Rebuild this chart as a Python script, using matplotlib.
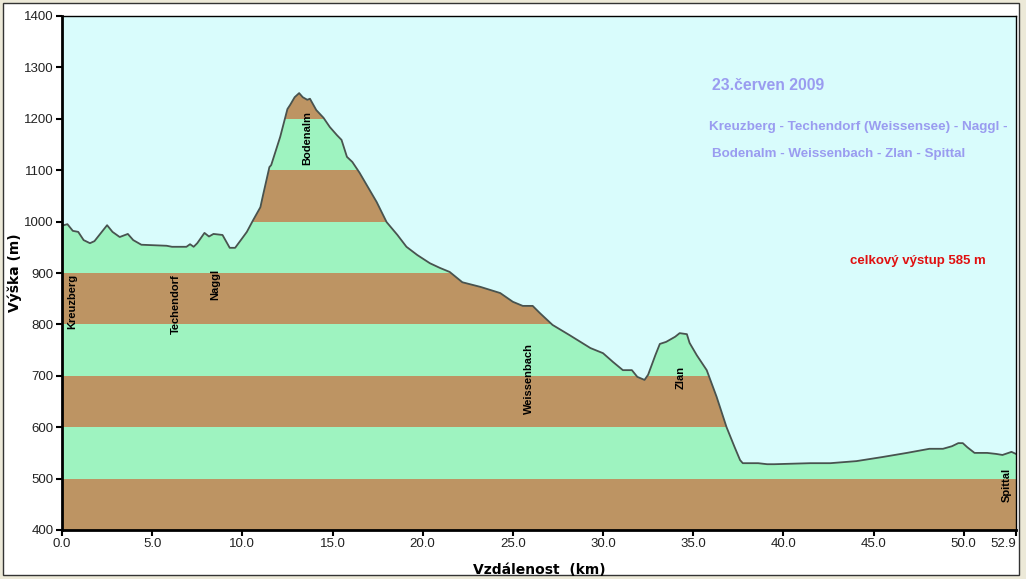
import numpy as np
import matplotlib
matplotlib.use('Agg')
import matplotlib.pyplot as plt
from matplotlib.patches import Polygon, Rectangle

# elevation profile (km, m)
km = [0.0, 0.3, 0.6, 0.9, 1.2, 1.55, 1.8, 2.5, 2.8, 3.2, 3.65, 3.95, 4.4, 5.8, 6.1,
      6.9, 7.1, 7.3, 7.5, 7.9, 8.15, 8.4, 8.9, 9.3, 9.6, 10.0, 10.25, 10.6, 11.0,
      11.15, 11.5, 11.6, 12.1, 12.5, 12.65, 12.9, 13.15, 13.35, 13.6, 13.75, 14.1,
      14.5, 14.85, 15.25, 15.5, 15.8, 16.1, 16.5, 16.8, 17.45, 18.0, 18.6, 19.1,
      19.7, 20.4, 20.95, 21.5, 22.2, 23.2, 24.3, 25.0, 25.55, 26.1, 26.5, 27.2,
      28.15, 29.3, 30.0, 30.55, 31.1, 31.6, 31.9, 32.3, 32.5, 32.9, 33.15, 33.5,
      34.0, 34.25, 34.65, 34.8, 35.2, 35.75, 36.3, 36.85, 37.3, 37.6, 37.75, 38.1,
      38.6, 39.1, 39.5, 41.5, 42.6, 44.05, 45.5, 46.85, 48.1, 48.85, 49.35, 49.7,
      49.95, 50.2, 50.6, 51.3, 51.8, 52.15, 52.65, 52.9]
elev = [992, 995, 982, 980, 964, 958, 962, 993, 980, 970, 976, 964, 955, 953, 951,
        951, 956, 951, 958, 978, 971, 976, 974, 949, 949, 968, 980, 1003, 1028,
        1052, 1106, 1110, 1165, 1219, 1227, 1242, 1250, 1242, 1237, 1239, 1217,
        1202, 1184, 1168, 1159, 1126, 1116, 1095, 1077, 1038, 999, 974, 951,
        935, 919, 910, 902, 882, 873, 861, 844, 836, 836, 822, 799,
        779, 754, 744, 727, 711, 711, 698, 692, 702, 740, 762, 766,
        776, 783, 781, 764, 740, 711, 659, 600, 561, 536, 530, 530,
        530, 528, 528, 530, 530, 534, 542, 550, 558, 558, 563, 569,
        569, 561, 550, 550, 548, 546, 552, 548]

places = ['Kreuzberg', 'Techendorf', 'Naggl', 'Bodenalm', 'Weissenbach', 'Zlan', 'Spittal']
place_km = [0.55, 6.3, 8.5, 13.6, 25.9, 34.3, 52.4]
place_y = [845, 840, 878, 1163, 695, 697, 487]

x_ticks = [0, 5, 10, 15, 20, 25, 30, 35, 40, 45, 50, 52.9]
y_ticks = [400, 500, 600, 700, 800, 900, 1000, 1100, 1200, 1300, 1400]

sky = '#d9fcfc'
green = '#9ef3c0'
brown = '#bd9463'
line = '#48534f'
blue = '#9a9cf0'

fig = plt.figure(figsize=(10.26, 5.79), dpi=100, facecolor='#ece9d8')
fig.patches.append(Rectangle((3/1026, 4/579), 1016/1026, 572/579, transform=fig.transFigure,
                             facecolor='white', edgecolor='#333333', lw=1, zorder=-10))
ax = fig.add_axes([62/1026, 49/579, 954/1026, 514/579])
ax.set_facecolor(sky)

x = np.array(km)
y = np.array(elev)
poly = Polygon(np.vstack([np.column_stack([x, y]), [[x[-1], 400], [x[0], 400]]]),
               closed=True, transform=ax.transData, facecolor='none', edgecolor='none')
ax.add_patch(poly)
for i, lo in enumerate(range(400, 1400, 100)):
    band = ax.axhspan(lo, lo + 100, color=brown if i % 2 == 0 else green, lw=0)
    band.set_clip_path(poly)
ax.plot(x, y, color=line, lw=1.3)

ax.set_xlim(0, 52.9)
ax.set_ylim(400, 1400)
ax.set_xticks(x_ticks)
ax.set_xticklabels(['%.1f' % v for v in x_ticks])
ax.set_yticks(y_ticks)
for lab in ax.get_xticklabels() + ax.get_yticklabels():
    lab.set_family('Liberation Sans')
    lab.set_fontsize(9.5)
    lab.set_color('#222222')
ax.get_xticklabels()[-1].set_horizontalalignment('right')
ax.tick_params(direction='out', length=4, width=1.5, pad=2)
for s in ['left', 'bottom']:
    ax.spines[s].set_linewidth(2)
for s in ['top', 'right']:
    ax.spines[s].set_linewidth(1)

ax.set_ylabel('Výška (m)', fontsize=10, fontweight='bold')
ax.yaxis.set_label_coords(-40/954, 0.5)
ax.set_xlabel('Vzdálenost  (km)', fontsize=10, fontweight='bold')
ax.xaxis.set_label_coords(0.5, -33/514)

for name, k, h in zip(places, place_km, place_y):
    ax.text(k, h, name, rotation=90, ha='center', va='center', fontsize=8,
            fontweight='bold', family='Liberation Sans', color='black')

ax.text(0.681, 0.865, '23.červen 2009', transform=ax.transAxes, fontsize=11.3,
        fontweight='bold', color=blue, family='Liberation Sans', va='center')
ax.text(0.678, 0.785, 'Kreuzberg - Techendorf (Weissensee) - Naggl -', transform=ax.transAxes,
        fontsize=9.7, fontweight='bold', color=blue, family='Liberation Sans', va='center')
ax.text(0.681, 0.732, 'Bodenalm - Weissenbach - Zlan - Spittal', transform=ax.transAxes,
        fontsize=9.6, fontweight='bold', color=blue, family='Liberation Sans', va='center')
ax.text(0.826, 0.524, 'celkový výstup 585 m', transform=ax.transAxes, fontsize=9.5,
        fontweight='bold', color='#e01010', family='Liberation Sans', va='center')

fig.savefig('out.png', dpi=100, facecolor=fig.get_facecolor())
